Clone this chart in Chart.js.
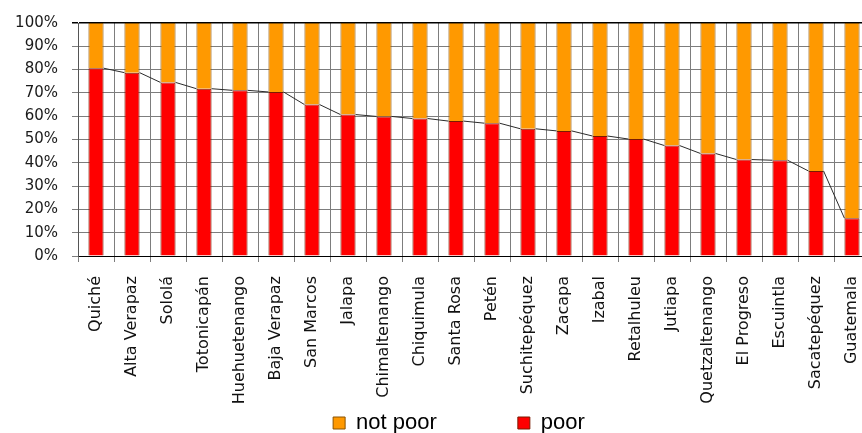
<!DOCTYPE html>
<html>
<head>
<meta charset="utf-8">
<script src="https://cdn.jsdelivr.net/npm/chart.js@4"></script>
<style>
  html, body { margin: 0; padding: 0; background: #fff; overflow: hidden; }
  #wrap { width: 918px; height: 444px; }
</style>
</head>
<body>
<div id="wrap"><canvas id="myChart" width="918" height="444"></canvas></div>
<script>
const departments = ['Quiché', 'Alta Verapaz', 'Sololá', 'Totonicapán', 'Huehuetenango', 'Baja Verapaz',
  'San Marcos', 'Jalapa', 'Chimaltenango', 'Chiquimula', 'Santa Rosa', 'Petén', 'Suchitepéquez',
  'Zacapa', 'Izabal', 'Retalhuleu', 'Jutiapa', 'Quetzaltenango', 'El Progreso', 'Escuintla',
  'Sacatepéquez', 'Guatemala'];
const poor = [80.6, 78.7, 74.5, 71.8, 71.1, 70.4, 65.0, 60.7, 59.9, 59.0, 57.9, 57.0, 54.6,
  53.7, 51.5, 50.2, 47.4, 44.0, 41.4, 41.1, 36.5, 16.2];
const notPoor = [19.4, 21.3, 25.5, 28.2, 28.9, 29.6, 35.0, 39.3, 40.1, 41.0, 42.1, 43.0, 45.4,
  46.3, 48.5, 49.8, 52.6, 56.0, 58.6, 58.9, 63.5, 83.8];
const yTicks = [0, 10, 20, 30, 40, 50, 60, 70, 80, 90, 100];

// Excel-style series lines joining the tops of the "poor" segments
const seriesLines = {
  id: 'seriesLines',
  afterLayout(chart) {
    // let the long rotated category names run down past the legend's top edge
    chart.scales.x.bottom = chart.height;
  },
  afterDatasetsDraw(chart) {
    const bars = chart.getDatasetMeta(0).data;
    const ctx = chart.ctx;
    ctx.save();
    ctx.strokeStyle = '#2b2b2b';
    ctx.lineWidth = 1;
    ctx.beginPath();
    for (let i = 0; i < bars.length - 1; i++) {
      const a = bars[i], b = bars[i + 1];
      ctx.moveTo(a.x + a.width / 2, a.y);
      ctx.lineTo(b.x - b.width / 2, b.y);
    }
    ctx.stroke();
    ctx.restore();
  }
};

const ctx = document.getElementById('myChart').getContext('2d');
const myChart = new Chart(ctx, {
  type: 'bar',
  data: {
    labels: departments,
    datasets: [{
      label: 'poor',
      data: poor,
      backgroundColor: '#ff0000',
      borderColor: '#7a1a00',
      borderWidth: 1,
      barPercentage: 0.42,
      categoryPercentage: 1
    },
    {
      label: 'not poor',
      data: notPoor,
      backgroundColor: '#ff9900',
      borderColor: '#8a5200',
      borderWidth: 1,
      barPercentage: 0.42,
      categoryPercentage: 1
    }]
  },
  plugins: [seriesLines],
  options: {
    responsive: false,
    animation: false,
    layout: { padding: { top: 21, left: 0, right: 0, bottom: 0 } },
    plugins: {
      tooltip: { enabled: false },
      legend: {
        position: 'bottom',
        reverse: true,
        labels: {
          boxWidth: 12,
          boxHeight: 12,
          padding: 81,
          color: '#000',
          font: { family: 'Liberation Sans', size: 22 }
        }
      }
    },
    scales: {
      x: {
        stacked: true,
        grid: { color: '#7d7d7d', tickLength: 6, offset: true },
        border: { color: '#000' },
        ticks: {
          autoSkip: false,
          minRotation: 90,
          maxRotation: 90,
          padding: 14,
          color: '#111',
          font: { family: 'DejaVu Sans', size: 16 }
        },
        afterFit(s) { s.height = 75; }
      },
      y: {
        stacked: true,
        min: 0,
        max: 100,
        afterBuildTicks(s) { s.ticks = yTicks.map(v => ({ value: v })); },
        grid: {
          tickLength: 6,
          color: c => (c.tick && c.tick.value === 100) ? '#000' : '#7d7d7d',
          lineWidth: c => (c.tick && c.tick.value === 100) ? 1.5 : 1
        },
        border: { color: '#555' },
        ticks: {
          padding: 14,
          color: '#1a1a1a',
          font: { family: 'DejaVu Sans', size: 15 },
          callback: v => v + '%'
        },
        afterFit(s) { s.width = 78; }
      },
      yR: {
        position: 'right',
        min: 0,
        max: 100,
        grid: { display: false, drawTicks: false },
        border: { display: false },
        ticks: { display: false },
        afterFit(s) { s.width = 48; }
      }
    }
  }
});
</script>
</body>
</html>
